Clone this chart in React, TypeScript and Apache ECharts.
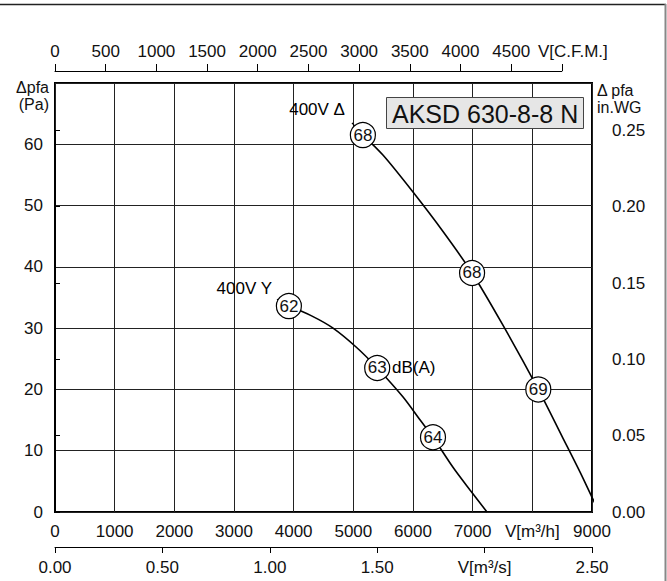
import React, { useEffect, useRef } from "react";
import * as echarts from "echarts";

// ---- data ----
const flowTicksM3h = [0, 1000, 2000, 3000, 4000, 5000, 6000, 7000, 8000, 9000];
const flowTicksM3s = [0, 0.5, 1.0, 1.5, 2.0, 2.5];
const flowTicksCFM = [0, 500, 1000, 1500, 2000, 2500, 3000, 3500, 4000, 4500, 5000];
const pressureTicksPa = [0, 10, 20, 30, 40, 50, 60, 70];
const pressureTicksInWG = [0, 0.05, 0.1, 0.15, 0.2, 0.25];

const curveDelta: number[][] = [
  [5160, 61.5], [5500, 58.2], [6000, 52.2], [6500, 45.8], [6990, 39.0],
  [7500, 30.6], [8100, 20.0], [8500, 12.3], [8800, 6.5], [9000, 2.4], [9120, 0],
];
const leaderDelta: number[][] = [[4977, 63.5], [5160, 61.5]];
const curveStar: number[][] = [
  [3920, 33.6], [4300, 32.0], [4660, 30.0], [5060, 26.8], [5400, 23.5],
  [5830, 18.8], [6120, 15.0], [6335, 12.2], [6670, 7.3], [6955, 3.6], [7240, 0],
];
const leaderStar: number[][] = [[3720, 34.7], [3920, 33.6]];

const noiseDelta: (number | string)[][] = [[5160, 61.5, "68"], [6990, 39.0, "68"], [8100, 20.0, "69"]];
const noiseStar: (number | string)[][] = [[3920, 33.6, "62"], [5400, 23.5, "63"], [6335, 12.2, "64"]];

const curveNames = ["400V Δ", "400V Y"];
const curveNamePos: number[][] = [[4860, 65.6], [3637, 36.5]];
const unitLabel = "dB(A)";
const unitLabelPos = [5648, 23.5];
const modelName = "AKSD 630-8-8 N";

const PA_PER_INWG = 249.09;

const FONT = "'Liberation Sans', Arial, Helvetica, sans-serif";
const TXT = "#111";

export default function App() {
  const ref = useRef<HTMLDivElement>(null);

  useEffect(() => {
    if (!ref.current) return;
    const chart = echarts.init(ref.current, null, { renderer: "svg" });

    const gLeft = 55;
    const gTop = 83;
    const gW = 537;
    const gH = 429;
    const xMax = flowTicksM3h[flowTicksM3h.length - 1];
    const yMax = pressureTicksPa[pressureTicksPa.length - 1];
    const pxPerPa = gH / yMax;
    const inwgMax = pressureTicksInWG[pressureTicksInWG.length - 1];
    const rightH = inwgMax * PA_PER_INWG * pxPerPa;
    const cfmMax = flowTicksCFM[flowTicksCFM.length - 1];
    const cfmW = (cfmMax * 1.69901 / xMax) * gW;

    const tick = { fontFamily: FONT, fontSize: 17, color: TXT };

    const option: any = {
      animation: false,
      backgroundColor: "#fff",
      textStyle: { fontFamily: FONT },
      title: {
        text: modelName,
        left: 386,
        top: 97,
        padding: [4, 6, 3, 6],
        backgroundColor: "#e6e6e6",
        borderColor: "#444",
        borderWidth: 1,
        textStyle: { fontFamily: FONT, fontSize: 25, fontWeight: "normal", color: TXT },
      },
      grid: [
        { left: gLeft, top: gTop, width: gW, height: gH, show: true, borderColor: "#000", borderWidth: 2, backgroundColor: "transparent" },
        { left: gLeft, top: 70, width: cfmW, height: 1 },
        { left: gLeft, top: gTop + gH - rightH, width: 548, height: rightH },
      ],
      xAxis: [
        {
          gridIndex: 0, type: "value", min: flowTicksM3h[0], max: xMax, interval: 1000,
          axisLine: { show: false }, axisTick: { show: false },
          axisLabel: { ...tick, margin: 11, formatter: (v: number) => (v === 8000 ? "V[m³/h]" : String(v)) },
          splitLine: { show: true, lineStyle: { color: "#222", width: 1 } },
        },
        {
          gridIndex: 0, type: "value", position: "bottom", offset: 35,
          min: flowTicksM3s[0], max: flowTicksM3s[flowTicksM3s.length - 1], interval: 0.5,
          axisLine: { show: true, lineStyle: { color: "#000", width: 1 } },
          axisTick: { show: true, length: 6, lineStyle: { color: "#000" } },
          axisLabel: { ...tick, margin: 12, formatter: (v: number) => (Math.abs(v - 2) < 1e-9 ? "V[m³/s]" : v.toFixed(2)) },
          splitLine: { show: false },
        },
        {
          gridIndex: 1, type: "value", position: "top",
          min: flowTicksCFM[0], max: cfmMax, interval: 500,
          axisLine: { show: true, lineStyle: { color: "#000", width: 1 } },
          axisTick: { show: true, length: 7, lineStyle: { color: "#000" } },
          axisLabel: {
            ...tick, margin: 10,
            formatter: (v: number) => (v === cfmMax ? "{u|V[C.F.M.]}" : String(v)),
            rich: { u: { fontFamily: FONT, fontSize: 17, color: TXT, padding: [0, 0, 0, 22] } },
          },
          splitLine: { show: false },
        },
        { gridIndex: 2, type: "value", min: 0, max: 1, show: false },
      ],
      yAxis: [
        {
          gridIndex: 0, type: "value", min: pressureTicksPa[0], max: yMax, interval: 10,
          axisLine: { show: false }, axisTick: { show: false },
          axisLabel: { ...tick, margin: 12, formatter: (v: number) => (v === yMax ? "" : String(v)) },
          splitLine: { show: true, lineStyle: { color: "#222", width: 1 } },
        },
        { gridIndex: 1, type: "value", min: 0, max: 1, show: false },
        {
          gridIndex: 2, type: "value", position: "right",
          min: pressureTicksInWG[0], max: inwgMax, interval: 0.05,
          axisLine: { show: true, lineStyle: { color: "#000", width: 1 } },
          axisTick: { show: true, length: 5, lineStyle: { color: "#000" } },
          axisLabel: { ...tick, margin: 9, formatter: (v: number) => v.toFixed(2) },
          splitLine: { show: false },
        },
      ],
      series: [
        {
          type: "line", name: curveNames[0], xAxisIndex: 0, yAxisIndex: 0, data: curveDelta,
          smooth: 0.3, clip: false, showSymbol: false, lineStyle: { color: "#000", width: 1.6 }, z: 3,
        },
        {
          type: "line", xAxisIndex: 0, yAxisIndex: 0, data: leaderDelta,
          showSymbol: false, lineStyle: { color: "#000", width: 1.2 }, z: 3,
        },
        {
          type: "line", name: curveNames[1], xAxisIndex: 0, yAxisIndex: 0, data: curveStar,
          smooth: 0.3, showSymbol: false, lineStyle: { color: "#000", width: 1.6 }, z: 3,
        },
        {
          type: "line", xAxisIndex: 0, yAxisIndex: 0, data: leaderStar,
          showSymbol: false, lineStyle: { color: "#000", width: 1.2 }, z: 3,
        },
        {
          type: "scatter", xAxisIndex: 0, yAxisIndex: 0,
          data: [...noiseDelta, ...noiseStar],
          symbol: "circle", symbolSize: 25,
          itemStyle: { color: "#fff", borderColor: "#000", borderWidth: 1.2, opacity: 1 },
          label: {
            show: true, position: "inside", fontFamily: FONT, fontSize: 17, color: TXT,
            formatter: (p: any) => p.value[2],
          },
          z: 5,
        },
        {
          type: "scatter", xAxisIndex: 0, yAxisIndex: 0,
          symbol: "circle", symbolSize: 0,
          itemStyle: { color: "#000", opacity: 1 },
          label: { show: true, fontFamily: FONT, fontSize: 17, color: "#000", distance: 0, formatter: (p: any) => p.name },
          data: [
            { name: curveNames[0], value: curveNamePos[0], label: { position: "left", color: "#000" } },
            { name: curveNames[1], value: curveNamePos[1], label: { position: "left", color: "#000" } },
            { name: unitLabel, value: unitLabelPos, label: { position: "right", color: "#000" } },
          ],
          z: 6,
        },
      ],
      graphic: [
        { type: "line", shape: { x1: 0, y1: 4.5, x2: 666, y2: 4.5 }, style: { stroke: "#222", lineWidth: 1.5 } },
        { type: "line", shape: { x1: 665.5, y1: 4, x2: 665.5, y2: 581 }, style: { stroke: "#888", lineWidth: 2 } },
        { type: "text", x: 49, y: 87, style: { text: "Δpfa", fontFamily: FONT, fontSize: 16, fill: TXT, align: "right", verticalAlign: "middle" } },
        { type: "text", x: 49, y: 104, style: { text: "(Pa)", fontFamily: FONT, fontSize: 16, fill: TXT, align: "right", verticalAlign: "middle" } },
        { type: "text", x: 597, y: 90, style: { text: "Δ pfa", fontFamily: FONT, fontSize: 16, fill: TXT, align: "left", verticalAlign: "middle" } },
        { type: "text", x: 597, y: 107, style: { text: "in.WG", fontFamily: FONT, fontSize: 16, fill: TXT, align: "left", verticalAlign: "middle" } },
      ],
    };

    chart.setOption(option);
    return () => chart.dispose();
  }, []);

  return (
    <div
      ref={ref}
      style={{ position: "absolute", left: 0, top: 0, width: 667, height: 581, background: "#fff" }}
    />
  );
}
